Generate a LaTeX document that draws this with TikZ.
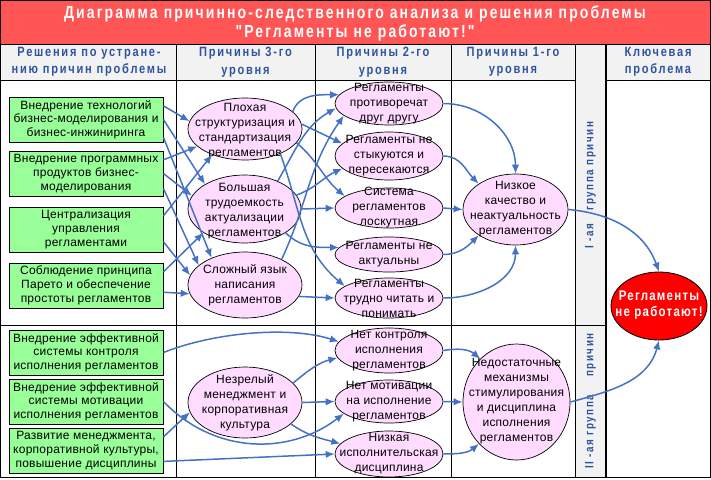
\documentclass[tikz,border=0pt]{standalone}
\usepackage{fontspec}
\setmainfont{Liberation Sans}
\newfontfamily\bodyfont[LetterSpace=2]{Liberation Sans}
\newfontfamily\hdrfont[FakeStretch=0.82,LetterSpace=13]{Liberation Sans}
\newfontfamily\ttlfont[FakeStretch=0.8,LetterSpace=12]{Liberation Sans}
\newfontfamily\keyfont[FakeStretch=0.82,LetterSpace=9]{Liberation Sans}
\usetikzlibrary{shapes.geometric,arrows.meta}
\definecolor{titlered}{RGB}{255,85,85}
\definecolor{hdrgray}{RGB}{242,242,242}
\definecolor{hdrblue}{RGB}{46,84,160}
\definecolor{arrblue}{RGB}{68,114,196}
\definecolor{solgreen}{RGB}{153,255,153}
\definecolor{causepink}{RGB}{255,219,255}
\definecolor{keyred}{RGB}{255,0,0}
\begin{document}
\begin{tikzpicture}[x=1pt,y=-1pt,
  sol/.style={draw=black, line width=0.9pt, fill=solgreen, minimum width=154pt,
    minimum height=45pt, inner sep=0pt, align=center,
    font=\bodyfont\fontsize{12}{13.7}\selectfont},
  cause/.style={ellipse, draw=black, line width=0.7pt, fill=causepink, inner sep=0pt},
  ctext/.style={align=center, inner sep=0pt, font=\bodyfont\fontsize{12}{15}\selectfont},
  arr/.style={draw=arrblue, line width=1.5pt, -{Latex[length=9pt,width=7.5pt]}},
  hdr/.style={align=center, inner sep=0pt, text=hdrblue,
    font=\hdrfont\bfseries\fontsize{13.5}{17.5}\selectfont},
  grp/.style={inner sep=0pt, text=hdrblue, font=\hdrfont\bfseries\fontsize{12}{14}\selectfont},
  ttl/.style={align=center, inner sep=0pt, text=white,
    font=\ttlfont\bfseries\fontsize{17.5}{19}\selectfont},
  tabline/.style={draw=black, line width=1pt}
]
\useasboundingbox (0,0) rectangle (711,479);
% backgrounds
\fill[titlered] (0,0) rectangle (710,44);
\fill[hdrgray] (0,44) rectangle (710,80);
\fill[hdrgray] (575,80) rectangle (606,477);
% table lines
\draw[tabline] (0.5,0.5) rectangle (710,477);
\draw[tabline] (0,44) -- (710,44);
\draw[tabline] (0,80) -- (575,80);
\draw[tabline] (606,80) -- (710,80);
\draw[tabline] (0,325) -- (606,325);
\draw[tabline] (176,44) -- (176,477);
\draw[tabline] (315,44) -- (315,477);
\draw[tabline] (451,44) -- (451,477);
\draw[tabline] (575,44) -- (575,477);
\draw[draw=black, line width=2.6pt] (606,44) -- (606,477);

% title and headers
\node[ttl] (title) at (355,23.5) {Диаграмма причинно-следственного анализа и решения проблемы\\"Регламенты не работают!"};
\node[hdr] (h1) at (89,62) {Решения по устране-\\нию причин проблемы};
\node[hdr] (h2) at (245.5,62) {Причины 3-го\\уровня};
\node[hdr] (h3) at (383,62) {Причины 2-го\\уровня};
\node[hdr] (h4) at (513,62) {Причины 1-го\\уровня};
\node[hdr] (h5) at (658,62) {Ключевая\\проблема};
\node[grp, rotate=90] (g1) at (590.5,185) {I -ая\hspace{13pt}группа причин};
\node[grp, rotate=90] (g2) at (590.5,401) {II -ая группа\hspace{18pt}причин};

% solutions
\node[sol] (b1) at (86,119.5) {Внедрение технологий\\бизнес-моделирования и\\бизнес-инжиниринга};
\node[sol] (b2) at (86,173.5) {Внедрение программных\\продуктов бизнес-\\моделирования};
\node[sol] (b3) at (86,229.5) {Централизация\\управления\\регламентами};
\node[sol] (b4) at (86,285.5) {Соблюдение принципа\\Парето и обеспечение\\простоты регламентов};
\node[sol] (b5) at (86,352.5) {Внедрение эффективной\\системы контроля\\исполнения регламентов};
\node[sol] (b6) at (86,401.5) {Внедрение эффективной\\системы мотивации\\исполнения регламентов};
\node[sol] (b7) at (86,450.5) {Развитие менеджмента,\\корпоративной культуры,\\повышение дисциплины};

% level 3
\node[cause, minimum width=114pt, minimum height=62pt] (A) at (245,129) {};
\node[ctext] (At) at (245,131) {Плохая\\структуризация и\\стандартизация\\регламентов};
\node[cause, minimum width=113pt, minimum height=68pt] (B) at (244.5,209) {};
\node[ctext] (Bt) at (244.5,211) {Большая\\трудоемкость\\актуализации\\регламентов};
\node[cause, minimum width=114pt, minimum height=66pt] (C) at (245,285) {};
\node[ctext] (Ct) at (245,285) {Сложный язык\\написания\\регламентов};
\node[cause, minimum width=114pt, minimum height=71pt] (D) at (245,402.5) {};
\node[ctext] (Dt) at (245,403) {Незрелый\\менеджмент и\\корпоративная\\культура};

% level 2
\node[cause, minimum width=108pt, minimum height=43pt] (E) at (389,103.5) {};
\node[ctext] (Et) at (389,104) {Регламенты\\противоречат\\друг другу};
\node[cause, minimum width=108pt, minimum height=48pt] (F) at (389,156) {};
\node[ctext] (Ft) at (389,156) {Регламенты не\\стыкуются и\\пересекаются};
\node[cause, minimum width=108pt, minimum height=40pt] (G) at (389,208) {};
\node[ctext] (Gt) at (389,208) {Система\\регламентов\\лоскутная};
\node[cause, minimum width=108pt, minimum height=35pt] (H) at (389,254.5) {};
\node[ctext] (Ht) at (389,254.5) {Регламенты не\\актуальны};
\node[cause, minimum width=108pt, minimum height=40pt] (I) at (389,298) {};
\node[ctext] (It) at (389,298) {Регламенты\\трудно читать и\\понимать};
\node[cause, minimum width=108pt, minimum height=45pt] (J) at (389,350.5) {};
\node[ctext] (Jt) at (389,350.5) {Нет контроля\\исполнения\\регламентов};
\node[cause, minimum width=108pt, minimum height=43pt] (K) at (389,401.5) {};
\node[ctext] (Kt) at (389,401.5) {Нет мотивации\\на исполнение\\регламентов};
\node[cause, minimum width=108pt, minimum height=46pt] (L) at (389,454) {};
\node[ctext] (Lt) at (389,454) {Низкая\\исполнительская\\дисциплина};

% level 1
\node[cause, minimum width=105pt, minimum height=71pt] (M) at (515.5,209.5) {};
\node[ctext] (Mt) at (515.5,209.5) {Низкое\\качество и\\неактуальность\\регламентов};
\node[cause, minimum width=107pt, minimum height=116pt] (N) at (516.5,402) {};
\node[ctext] (Nt) at (516.5,401) {Недостаточные\\механизмы\\стимулирования\\и дисциплина\\исполнения\\регламентов};

% key problem
\node[ellipse, draw=black, line width=0.8pt, fill=keyred, inner sep=0pt,
  minimum width=96pt, minimum height=68pt] (key) at (659,306) {};
\node[align=center, inner sep=0pt, text=white,
  font=\keyfont\bfseries\fontsize{14}{16.5}\selectfont] (keyt) at (659,305) {Регламенты\\не работают!};

% solutions -> level 3 (group I)
\draw[arr] (b1.10) -- (A.172);
\draw[arr] (b1.0) -- (B.148);
\draw[arr] (b1.-13) -- (C.141);
\draw[arr] (b2.10) -- (A.200);
\draw[arr] (b2.0) -- (B.166);
\draw[arr] (b2.-11) -- (C.157);
\draw[arr] (b3.10) -- (A.218);
\draw[arr] (b3.-9) -- (C.170);
\draw[arr] (b4.10) -- (B.210);
\draw[arr] (b4.-5) -- (C.189);

% level 3 -> level 2 (group I)
\draw[arr] (A.20) to[out=70,in=180] (E.170);
\draw[arr] (A.5) -- (F.165);
\draw[arr] (A.-15) to[out=-40,in=140] (G.165);
\draw[arr] (A.-35) to[out=-70,in=140] (I.165);
\draw[arr] (B.40) to[out=60,in=210] (E.185);
\draw[arr] (B.15) to[out=20,in=205] (F.195);
\draw[arr] (B.0) -- (G.180);
\draw[arr] (B.-30) to[out=-45,in=180] (H.172);
\draw[arr] (C.35) to[out=65,in=235] (E.195);
\draw[arr] (C.-12) -- (I.180);

% level 2 -> level 1 (group I)
\draw[arr] (E.0) to[out=0,in=90] (M.90);
\draw[arr] (F.0) to[out=0,in=135] (M.145);
\draw[arr] (G.0) -- (M.180);
\draw[arr] (H.0) to[out=0,in=225] (M.215);
\draw[arr] (I.0) to[out=0,in=270] (M.270);
\draw[arr] (M.0) to[out=-5,in=110] (key.90);

% group II
\draw[arr] (b5.0) .. controls (215,332) and (290,326) .. (J.170);
\draw[arr] (b6.0) .. controls (215,455) and (290,455) .. (K.195);
\draw[arr] (b7.10) -- (D.190);
\draw[arr] (b7.-8.5) -- (L.180);
\draw[arr] (D.22) to[out=40,in=195] (J.188);
\draw[arr] (D.0) -- (K.180);
\draw[arr] (D.-25) to[out=-35,in=165] (L.168);
\draw[arr] (J.0) to[out=10,in=140] (N.130);
\draw[arr] (K.0) -- (N.180);
\draw[arr] (L.0) to[out=0,in=220] (N.228);
\draw[arr] (N.0) to[out=15,in=-105] (key.270);
\end{tikzpicture}
\end{document}
